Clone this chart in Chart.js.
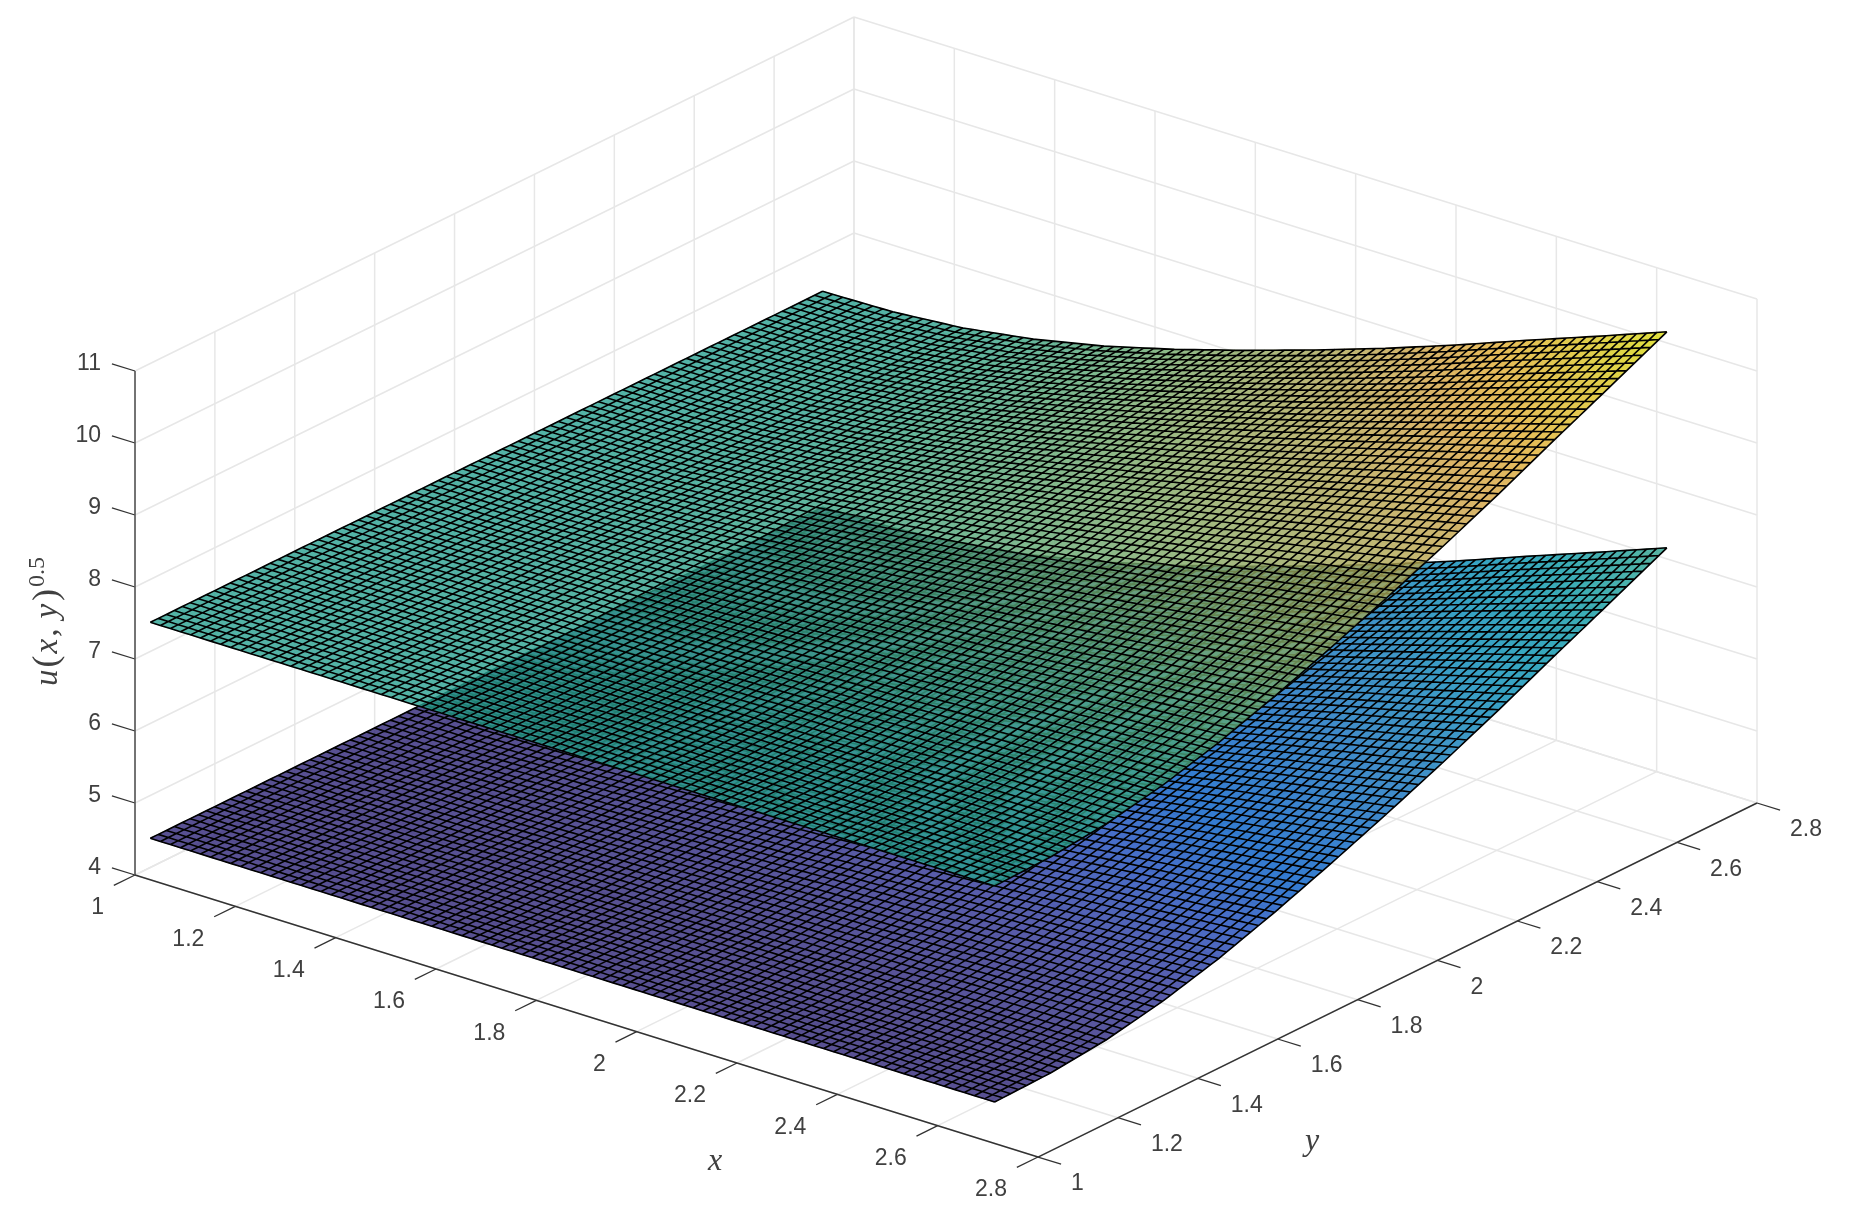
<!DOCTYPE html>
<html>
<head>
<meta charset="utf-8">
<title>u(x,y)^0.5</title>
<script src="https://cdn.jsdelivr.net/npm/chart.js@4/dist/chart.umd.min.js"></script>
<style>
  html, body { margin: 0; padding: 0; background: #fff; }
  canvas { display: block; filter: blur(0.4px); }
</style>
</head>
<body>
<canvas id="surfaceChart" width="1853" height="1226"></canvas>
<script>
const xTicks = [1, 1.2, 1.4, 1.6, 1.8, 2, 2.2, 2.4, 2.6, 2.8];
const yTicks = [1, 1.2, 1.4, 1.6, 1.8, 2, 2.2, 2.4, 2.6, 2.8];
const zTicks = [4, 5, 6, 7, 8, 9, 10, 11];

// heights, one row per y value
const surfaceX = [1.017, 1.157, 1.297, 1.437, 1.578, 1.718, 1.858, 1.998, 2.139, 2.279, 2.419, 2.559, 2.70];
const surfaceY = [1.017, 1.157, 1.297, 1.437, 1.578, 1.718, 1.858, 1.998, 2.139, 2.279, 2.419, 2.559, 2.70];

const lowerSurface = [
  [4.50, 4.50, 4.50, 4.50, 4.50, 4.50, 4.50, 4.50, 4.50, 4.50, 4.50, 4.50, 4.50],
  [4.50, 4.50, 4.50, 4.50, 4.50, 4.50, 4.51, 4.51, 4.51, 4.51, 4.52, 4.52, 4.52],
  [4.50, 4.50, 4.50, 4.51, 4.52, 4.52, 4.53, 4.54, 4.55, 4.56, 4.58, 4.59, 4.60],
  [4.50, 4.50, 4.51, 4.52, 4.54, 4.56, 4.58, 4.61, 4.63, 4.66, 4.69, 4.72, 4.75],
  [4.50, 4.50, 4.52, 4.54, 4.57, 4.61, 4.65, 4.70, 4.74, 4.80, 4.85, 4.90, 4.96],
  [4.50, 4.50, 4.52, 4.56, 4.61, 4.67, 4.73, 4.81, 4.88, 4.96, 5.05, 5.13, 5.22],
  [4.50, 4.51, 4.53, 4.58, 4.65, 4.74, 4.83, 4.93, 5.04, 5.15, 5.27, 5.39, 5.51],
  [4.50, 4.51, 4.54, 4.61, 4.70, 4.81, 4.93, 5.06, 5.20, 5.35, 5.51, 5.66, 5.82],
  [4.50, 4.51, 4.55, 4.63, 4.75, 4.88, 5.04, 5.20, 5.38, 5.56, 5.76, 5.95, 6.15],
  [4.50, 4.51, 4.56, 4.66, 4.80, 4.96, 5.15, 5.35, 5.56, 5.79, 6.03, 6.26, 6.50],
  [4.50, 4.52, 4.58, 4.69, 4.85, 5.05, 5.27, 5.51, 5.76, 6.03, 6.31, 6.59, 6.87],
  [4.50, 4.52, 4.59, 4.72, 4.91, 5.13, 5.39, 5.66, 5.95, 6.26, 6.59, 6.91, 7.23],
  [4.50, 4.52, 4.60, 4.75, 4.96, 5.22, 5.51, 5.82, 6.15, 6.50, 6.87, 7.23, 7.60]
];

const upperSurface = [
  [7.50, 7.50, 7.50, 7.50, 7.50, 7.50, 7.50, 7.50, 7.50, 7.50, 7.50, 7.50, 7.50],
  [7.50, 7.50, 7.50, 7.50, 7.50, 7.50, 7.51, 7.51, 7.51, 7.51, 7.52, 7.52, 7.52],
  [7.50, 7.50, 7.50, 7.51, 7.52, 7.52, 7.53, 7.54, 7.55, 7.56, 7.58, 7.59, 7.60],
  [7.50, 7.50, 7.51, 7.52, 7.54, 7.56, 7.58, 7.61, 7.63, 7.66, 7.69, 7.72, 7.75],
  [7.50, 7.50, 7.52, 7.54, 7.57, 7.61, 7.65, 7.70, 7.74, 7.80, 7.85, 7.90, 7.96],
  [7.50, 7.50, 7.52, 7.56, 7.61, 7.67, 7.73, 7.81, 7.88, 7.96, 8.05, 8.13, 8.22],
  [7.50, 7.51, 7.53, 7.58, 7.65, 7.74, 7.83, 7.93, 8.04, 8.15, 8.27, 8.39, 8.51],
  [7.50, 7.51, 7.54, 7.61, 7.70, 7.81, 7.93, 8.06, 8.20, 8.35, 8.51, 8.66, 8.82],
  [7.50, 7.51, 7.55, 7.63, 7.75, 7.88, 8.04, 8.20, 8.38, 8.56, 8.76, 8.95, 9.15],
  [7.50, 7.51, 7.56, 7.66, 7.80, 7.96, 8.15, 8.35, 8.56, 8.79, 9.03, 9.26, 9.50],
  [7.50, 7.52, 7.58, 7.69, 7.85, 8.05, 8.27, 8.51, 8.76, 9.03, 9.31, 9.59, 9.87],
  [7.50, 7.52, 7.59, 7.72, 7.91, 8.13, 8.39, 8.66, 8.95, 9.26, 9.59, 9.91, 10.23],
  [7.50, 7.52, 7.60, 7.75, 7.96, 8.22, 8.51, 8.82, 9.15, 9.50, 9.87, 10.23, 10.60]
];

// parula colormap
const parula = [
  [0.2081, 0.1663, 0.5292], [0.2081, 0.2386, 0.6771], [0.1253, 0.3242, 0.8303], [0.0060, 0.4086, 0.8828],
  [0.0498, 0.4586, 0.8641], [0.0779, 0.5040, 0.8384], [0.0641, 0.5570, 0.8240], [0.0265, 0.6137, 0.8135],
  [0.0228, 0.6535, 0.7768], [0.0590, 0.6838, 0.7254], [0.1453, 0.7098, 0.6646], [0.2586, 0.7317, 0.5954],
  [0.3953, 0.7459, 0.5244], [0.5300, 0.7491, 0.4661], [0.6473, 0.7456, 0.4188], [0.7525, 0.7384, 0.3768],
  [0.8507, 0.7299, 0.3360], [0.9450, 0.7261, 0.2886], [0.9990, 0.7653, 0.2164], [0.9789, 0.8271, 0.1633],
  [0.9589, 0.8949, 0.1132], [0.9763, 0.9831, 0.0538]
];

const colorMin = 4.5;
const colorMax = 10.6;
const faceAlpha = 0.8;
const faceShade = 0.88;
const cellsPerNode = 7; // mesh drawn 84 x 84 over the 13 x 13 table

const textColor = "#404040";
const gridColor = "#e7e7e7";
const axisColor = "#333333";

// orthographic view of the box: where (1,1,4) lands and the step per unit of x, y, z
const view = {
  ox: 135, oy: 875,
  xx: 501.67, xy: 156.67,
  yx: 399.44, yy: -196.67,
  zy: -72
};

function project(x, y, z) {
  return {
    x: view.ox + (x - 1) * view.xx + (y - 1) * view.yx,
    y: view.oy + (x - 1) * view.xy + (y - 1) * view.yy + (z - 4) * view.zy
  };
}

function lineSet(a, b, color, width) {
  return {
    data: [a, b],
    showLine: true,
    pointRadius: 0,
    borderColor: color,
    borderWidth: width,
    fill: false
  };
}

function surfaceSet(name, table) {
  const pts = [];
  table.forEach((row, j) => {
    row.forEach((z, i) => {
      const p = project(surfaceX[i], surfaceY[j], z);
      pts.push({ x: p.x, y: p.y, z: z, i: i, j: j });
    });
  });
  return { label: name, isSurface: true, data: pts, showLine: false, pointRadius: 0 };
}

const xMin = xTicks[0], xMax = xTicks[xTicks.length - 1];
const yMin = yTicks[0], yMax = yTicks[yTicks.length - 1];
const zMin = zTicks[0], zMax = zTicks[zTicks.length - 1];

const datasets = [];

// axes and tick marks go first so the grid never paints over them
datasets.push(lineSet(project(xMin, yMin, zMin), project(xMax, yMin, zMin), axisColor, 1.4));
datasets.push(lineSet(project(xMax, yMin, zMin), project(xMax, yMax, zMin), axisColor, 1.4));
datasets.push(lineSet(project(xMin, yMin, zMin), project(xMin, yMin, zMax), "#555555", 1.6));
xTicks.forEach(x => datasets.push(lineSet(project(x, yMin, zMin), project(x, yMin - 0.053, zMin), axisColor, 1.3)));
yTicks.forEach(y => datasets.push(lineSet(project(xMax, y, zMin), project(xMax + 0.046, y, zMin), axisColor, 1.3)));
zTicks.forEach(z => datasets.push(lineSet(project(xMin, yMin, z), project(xMin - 0.046, yMin, z), axisColor, 1.3)));

// floor and the two back walls
xTicks.forEach(x => {
  datasets.push(lineSet(project(x, yMin, zMin), project(x, yMax, zMin), gridColor, 1.5));
  datasets.push(lineSet(project(x, yMax, zMin), project(x, yMax, zMax), gridColor, 1.5));
});
yTicks.forEach(y => {
  datasets.push(lineSet(project(xMin, y, zMin), project(xMax, y, zMin), gridColor, 1.5));
  datasets.push(lineSet(project(xMin, y, zMin), project(xMin, y, zMax), gridColor, 1.5));
});
zTicks.forEach(z => {
  datasets.push(lineSet(project(xMin, yMin, z), project(xMin, yMax, z), gridColor, 1.5));
  datasets.push(lineSet(project(xMin, yMax, z), project(xMax, yMax, z), gridColor, 1.5));
});

datasets.push(surfaceSet("lower", lowerSurface));
datasets.push(surfaceSet("upper", upperSurface));

function parulaColor(z) {
  let t = (z - colorMin) / (colorMax - colorMin);
  t = Math.max(0, Math.min(1, t)) * (parula.length - 1);
  const k = Math.min(parula.length - 2, Math.floor(t));
  const f = t - k;
  const c = [0, 1, 2].map(n => (parula[k][n] + (parula[k + 1][n] - parula[k][n]) * f) * 255 * faceShade);
  return `rgb(${c[0].toFixed(0)},${c[1].toFixed(0)},${c[2].toFixed(0)})`;
}

// fine mesh point, bilinear inside a table cell, in pixels from the chart scales
function meshGrid(chart, ds) {
  const sx = chart.scales.x, sy = chart.scales.y;
  const n = surfaceX.length;
  const at = (i, j) => ds.data[j * n + i];
  const cells = (n - 1) * cellsPerNode;
  const grid = [];
  for (let b = 0; b <= cells; b++) {
    const row = [];
    const j = Math.min(n - 2, Math.floor(b / cellsPerNode));
    const v = b / cellsPerNode - j;
    for (let a = 0; a <= cells; a++) {
      const i = Math.min(n - 2, Math.floor(a / cellsPerNode));
      const u = a / cellsPerNode - i;
      const mix = key =>
        at(i, j)[key] * (1 - u) * (1 - v) + at(i + 1, j)[key] * u * (1 - v) +
        at(i, j + 1)[key] * (1 - u) * v + at(i + 1, j + 1)[key] * u * v;
      row.push({ px: sx.getPixelForValue(mix("x")), py: sy.getPixelForValue(mix("y")), z: mix("z") });
    }
    grid.push(row);
  }
  return grid;
}

function drawSurface(chart, ds) {
  const ctx = chart.ctx;
  const grid = meshGrid(chart, ds);
  const cells = grid.length - 1;

  const off = document.createElement("canvas");
  off.width = chart.width;
  off.height = chart.height;
  const oc = off.getContext("2d");
  oc.lineWidth = 0.8;
  for (let b = 0; b < cells; b++) {
    for (let a = 0; a < cells; a++) {
      const p = [grid[b][a], grid[b][a + 1], grid[b + 1][a + 1], grid[b + 1][a]];
      const color = parulaColor((p[0].z + p[1].z + p[2].z + p[3].z) / 4);
      oc.fillStyle = color;
      oc.strokeStyle = color;
      oc.beginPath();
      oc.moveTo(p[0].px, p[0].py);
      for (let k = 1; k < 4; k++) oc.lineTo(p[k].px, p[k].py);
      oc.closePath();
      oc.fill();
      oc.stroke();
    }
  }
  ctx.save();
  ctx.globalAlpha = faceAlpha;
  ctx.drawImage(off, 0, 0);
  ctx.globalAlpha = 1;
  ctx.strokeStyle = "#000";
  ctx.lineWidth = 1.6;
  ctx.beginPath();
  for (let b = 0; b <= cells; b++) {
    ctx.moveTo(grid[b][0].px, grid[b][0].py);
    for (let a = 1; a <= cells; a++) ctx.lineTo(grid[b][a].px, grid[b][a].py);
  }
  for (let a = 0; a <= cells; a++) {
    ctx.moveTo(grid[0][a].px, grid[0][a].py);
    for (let b = 1; b <= cells; b++) ctx.lineTo(grid[b][a].px, grid[b][a].py);
  }
  ctx.stroke();
  ctx.restore();
}

const surfacePlugin = {
  id: "surfacePlugin",
  afterDatasetsDraw(chart) {
    chart.data.datasets.filter(d => d.isSurface).forEach(d => drawSurface(chart, d));
  }
};

function drawLabels(chart) {
  const ctx = chart.ctx;
  const sx = chart.scales.x, sy = chart.scales.y;
  const px = p => ({ x: sx.getPixelForValue(p.x), y: sy.getPixelForValue(p.y) });
  ctx.save();
  ctx.fillStyle = textColor;
  ctx.font = '23px "Liberation Sans"';
  ctx.textBaseline = "middle";

  ctx.textAlign = "right";
  xTicks.forEach(x => {
    const t = px(project(x, yMin, zMin));
    ctx.fillText(String(x), t.x - 31, t.y + 33);
  });
  zTicks.forEach(z => {
    const t = px(project(xMin, yMin, z));
    ctx.fillText(String(z), t.x - 34, t.y - 7);
  });
  ctx.textAlign = "left";
  yTicks.forEach(y => {
    const t = px(project(xMax, y, zMin));
    ctx.fillText(String(y), t.x + 33, t.y + 27);
  });

  // axis titles
  ctx.textAlign = "center";
  ctx.textBaseline = "alphabetic";
  ctx.font = 'italic 32px "Liberation Serif"';
  ctx.fillText("x", 715, 1170);
  ctx.fillText("y", 1312, 1150);

  ctx.translate(57, 686);
  ctx.rotate(-Math.PI / 2);
  ctx.textAlign = "left";
  let pos = 0;
  const piece = (text, font, gap, lift) => {
    ctx.font = font;
    ctx.fillText(text, pos, lift);
    pos += ctx.measureText(text).width + gap;
  };
  const ital = 'italic 33px "Liberation Serif"';
  const rom = '36px "Liberation Serif"';
  piece("u", ital, 2, 0);
  piece("(", rom, 2, 0);
  piece("x", ital, 2, 0);
  piece(",", ital, 10, 0);
  piece("y", ital, 3, 0);
  piece(")", rom, 2, 0);
  piece("0.5", '24px "Liberation Serif"', 0, -13);
  ctx.restore();
}

const labelPlugin = { id: "labelPlugin", afterDraw: drawLabels };

new Chart(document.getElementById("surfaceChart").getContext("2d"), {
  type: "scatter",
  data: { datasets: datasets },
  options: {
    responsive: false,
    animation: false,
    layout: { padding: 0 },
    plugins: { legend: { display: false }, tooltip: { enabled: false }, title: { display: false } },
    scales: {
      x: { type: "linear", min: 0, max: 1853, display: false },
      y: { type: "linear", min: 0, max: 1226, reverse: true, display: false }
    }
  },
  plugins: [surfacePlugin, labelPlugin]
});
</script>
</body>
</html>
